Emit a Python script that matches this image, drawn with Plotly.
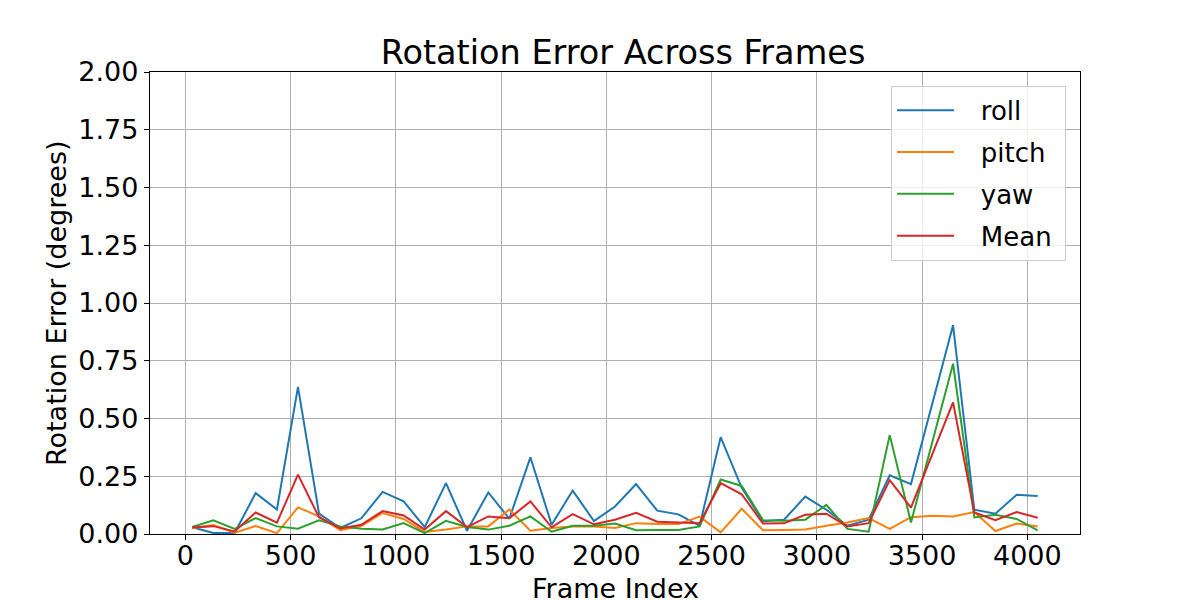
import plotly.graph_objects as go

frames = [33, 133, 234, 334, 435, 535, 635, 736, 836, 937, 1037, 1137, 1238, 1338,
          1439, 1539, 1639, 1740, 1840, 1941, 2041, 2141, 2242, 2342, 2443, 2543,
          2643, 2744, 2844, 2945, 3045, 3145, 3246, 3346, 3447, 3547, 3647, 3748,
          3848, 3949, 4049]

roll = [0.029, 0.004, 0.004, 0.177, 0.106, 0.637, 0.088, 0.026, 0.068, 0.182,
        0.141, 0.030, 0.220, 0.014, 0.180, 0.066, 0.332, 0.040, 0.188, 0.056,
        0.119, 0.216, 0.101, 0.085, 0.036, 0.419, 0.200, 0.055, 0.062, 0.162,
        0.105, 0.036, 0.062, 0.254, 0.216, 0.560, 0.904, 0.105, 0.088, 0.170,
        0.164]

pitch = [0.025, 0.039, 0.006, 0.034, 0.004, 0.115, 0.076, 0.016, 0.034, 0.091,
         0.065, 0.009, 0.019, 0.033, 0.033, 0.106, 0.014, 0.026, 0.033, 0.033,
         0.026, 0.047, 0.043, 0.043, 0.075, 0.007, 0.109, 0.016, 0.017, 0.020,
         0.036, 0.050, 0.069, 0.022, 0.073, 0.079, 0.076, 0.095, 0.013, 0.045,
         0.032]

yaw = [0.030, 0.059, 0.022, 0.069, 0.033, 0.023, 0.059, 0.033, 0.023, 0.020,
       0.047, 0.004, 0.057, 0.030, 0.019, 0.036, 0.076, 0.010, 0.036, 0.036,
       0.045, 0.016, 0.017, 0.017, 0.033, 0.236, 0.208, 0.060, 0.057, 0.062,
       0.126, 0.022, 0.010, 0.428, 0.050, 0.390, 0.737, 0.072, 0.083, 0.065,
       0.016]

mean = [0.028, 0.034, 0.011, 0.093, 0.049, 0.257, 0.072, 0.024, 0.040, 0.099,
        0.080, 0.019, 0.099, 0.030, 0.076, 0.068, 0.141, 0.029, 0.086, 0.042,
        0.062, 0.092, 0.053, 0.049, 0.047, 0.220, 0.172, 0.045, 0.046, 0.083,
        0.088, 0.033, 0.047, 0.233, 0.114, 0.343, 0.570, 0.093, 0.060, 0.095,
        0.070]

series = [("roll", roll, "#1f77b4"), ("pitch", pitch, "#ff7f0e"),
          ("yaw", yaw, "#2ca02c"), ("Mean", mean, "#d62728")]

FONT = "DejaVu Sans"
PAD_L = "\u00a0\u00a0\u2009"   # gap between legend sample and label, as in reference
PAD_R = "\u00a0"

fig = go.Figure()
for name, vals, color in series:
    fig.add_trace(go.Scatter(x=frames, y=vals, mode="lines", name=PAD_L + name + PAD_R,
                             legendgroup=name,
                             line=dict(color=color, width=2)))

# the page adds an 8px body margin; plot area targets screen px 150..1080 x 72..534
fig.update_layout(
    width=1200, height=600,
    margin=dict(l=142, r=128, t=64, b=74, autoexpand=False),
    paper_bgcolor="white", plot_bgcolor="white",
    font=dict(family=FONT, size=26, color="black"),
    title=dict(text="Rotation Error Across Frames", x=0.5125, xanchor="center",
               y=1 - 44 / 600, yref="container", yanchor="middle",
               font=dict(family=FONT, size=33.5, color="black")),
    legend=dict(x=0.985, xanchor="right", y=0.97, yanchor="top",
                bgcolor="rgba(255,255,255,0.8)", bordercolor="#cccccc",
                borderwidth=1, font=dict(family=FONT, size=26),
                itemwidth=57, tracegroupgap=5, traceorder="grouped"),
    showlegend=True,
    annotations=[
        dict(text="Frame Index", xref="paper", yref="paper", x=0.5, y=-0.1185,
             xanchor="center", yanchor="middle", showarrow=False,
             font=dict(family=FONT, size=27, color="black")),
        dict(text="Rotation Error (degrees)", xref="paper", yref="paper",
             x=-0.101, y=0.5, xanchor="center", yanchor="middle", textangle=-90,
             showarrow=False, font=dict(family=FONT, size=27, color="black")),
    ],
)

fig.update_xaxes(range=[-168, 4250], tickvals=[0, 500, 1000, 1500, 2000, 2500, 3000, 3500, 4000],
                 automargin=False,
                 showgrid=True, gridcolor="#b0b0b0", gridwidth=1, zeroline=False,
                 showline=True, linecolor="black", linewidth=1.3, mirror=True,
                 ticks="outside", ticklen=5, tickcolor="black",
                 ticklabelstandoff=-8,
                 tickfont=dict(size=27))
fig.update_yaxes(range=[0, 2], tickvals=[0, 0.25, 0.5, 0.75, 1.0, 1.25, 1.5, 1.75, 2.0],
                 tickformat=".2f", automargin=False,
                 showgrid=True, gridcolor="#b0b0b0", gridwidth=1, zeroline=False,
                 showline=True, linecolor="black", linewidth=1.3, mirror=True,
                 ticks="outside", ticklen=5, tickcolor="black",
                 tickfont=dict(size=27))

fig.write_html("out.html")
